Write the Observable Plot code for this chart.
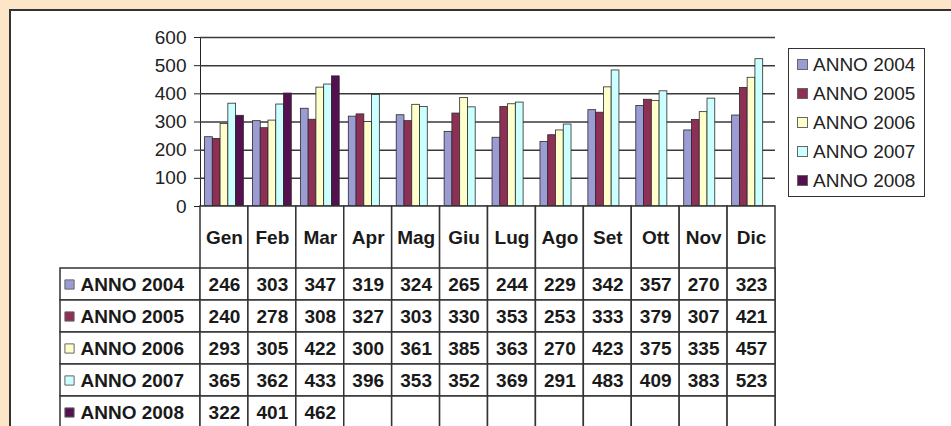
<!DOCTYPE html>
<html><head><meta charset="utf-8">
<script src="https://cdn.jsdelivr.net/npm/d3@7"></script>
<script src="https://cdn.jsdelivr.net/npm/@observablehq/plot@0.6"></script>
<style>
html,body{margin:0;padding:0;width:951px;height:426px;overflow:hidden;background:#fde6c8;font-family:"Liberation Sans",Arial,sans-serif;}
#panel{position:absolute;left:9px;top:9px;right:-4px;bottom:-4px;background:#fff;border-top:2px solid #333;border-left:2px solid #333;}
#chart,#table{position:absolute;left:0;}
#chart{top:0;} #table{top:206px;}
#legend{position:absolute;left:788px;top:48px;width:137px;height:149px;box-sizing:border-box;border:1.5px solid #333;background:#fff;padding-top:1px;font-size:19px;color:#222;}
#legend .it{display:flex;align-items:center;height:29px;}
#legend .sw{width:9px;height:9px;margin-left:8px;border:1px solid #666;}
#legend .tx{margin-left:5px;white-space:nowrap;}
</style></head><body>
<div id="panel"></div><div id="chart"></div><div id="table"></div><div id="legend"></div>
<script>
const months = ["Gen","Feb","Mar","Apr","Mag","Giu","Lug","Ago","Set","Ott","Nov","Dic"];
const series = ["2004","2005","2006","2007","2008"];
const v2004 = [246,303,347,319,324,265,244,229,342,357,270,323];
const v2005 = [240,278,308,327,303,330,353,253,333,379,307,421];
const v2006 = [293,305,422,300,361,385,363,270,423,375,335,457];
const v2007 = [365,362,433,396,353,352,369,291,483,409,383,523];
const v2008 = [322,401,462];
const yTicks = [0,100,200,300,400,500,600];
const colors = ["#9c9cd4","#8e2f55","#ffffcc","#ccffff","#55104f"];
const values = [v2004, v2005, v2006, v2007, v2008];
const seriesLabel = s => "ANNO " + s;

const data = series.flatMap((s, si) => values[si].map((v, i) => ({series: s, month: months[i], value: v})));
const cells = series.flatMap((s, si) => months.map((m, i) => ({series: s, month: m, value: values[si][i]})));

const W = 951, ML = 200, MR = 176, MT = 37, AXIS_Y = 206;
const frameW = W - ML - MR;
const bw = frameW / months.length;
const pad = bw * 0.095;
const barW = (bw - 2 * pad) / series.length;
const LINE = "#333";
const FONT = "'Liberation Sans', Arial, sans-serif";

const barMarks = series.map((s, si) => Plot.barY(data.filter(d => d.series === s), {
  x: "month", y: "value", fill: colors[si], stroke: "#2a2a2a", strokeWidth: 0.8,
  insetLeft: pad + si * barW, insetRight: bw - pad - (si + 1) * barW
}));

const chart = Plot.plot({
  width: W, height: AXIS_Y + 24,
  marginLeft: ML, marginRight: MR, marginTop: MT, marginBottom: 24,
  style: {background: "transparent", overflow: "visible", fontFamily: FONT, fontSize: "19px", color: "#222"},
  x: {type: "band", domain: months, padding: 0, round: false, axis: null},
  y: {domain: [0, 600], ticks: yTicks, tickFormat: d => String(d), tickSize: 6, tickPadding: 8, label: null, line: true},
  marks: [
    Plot.ruleY(yTicks, {stroke: "#3a3a3a", strokeWidth: 1.5}),
    ...barMarks,
    Plot.ruleY([0], {stroke: "#222", strokeWidth: 1.5})
  ]
});
document.getElementById("chart").appendChild(chart);

const HEAD = 62, ROW = 32;
const dotMarks = series.map((s, si) => Plot.dot([s], {
  y: d => d, frameAnchor: "left", dx: -131, symbol: "square", r: 5.2,
  fill: colors[si], stroke: "#666", strokeWidth: 1
}));

const table = Plot.plot({
  width: W, height: HEAD + ROW * series.length,
  marginLeft: ML, marginRight: MR, marginTop: HEAD, marginBottom: 0,
  style: {background: "transparent", overflow: "visible", fontFamily: FONT, fontSize: "19px", fontWeight: "bold", color: "#1a1a1a"},
  x: {type: "band", domain: months, padding: 0, round: false, axis: null},
  y: {type: "band", domain: series, padding: 0, round: false, axis: null},
  marks: [
    Plot.cell(months, {x: d => d, fill: "white", stroke: LINE, strokeWidth: 1.5, insetTop: -HEAD}),
    Plot.cell(series, {y: d => d, fill: "white", stroke: LINE, strokeWidth: 1.5, insetLeft: -140, insetRight: frameW}),
    Plot.cell(cells, {x: "month", y: "series", fill: "white", stroke: LINE, strokeWidth: 1.5}),
    Plot.text(months, {x: d => d, frameAnchor: "top", lineAnchor: "middle", dy: -31, text: d => d, fill: "#1a1a1a"}),
    ...dotMarks,
    Plot.text(series, {y: d => d, frameAnchor: "left", dx: -120, textAnchor: "start", text: seriesLabel, fill: "#1a1a1a"}),
    Plot.text(cells.filter(d => d.value != null), {x: "month", y: "series", text: d => String(d.value), fill: "#1a1a1a"})
  ]
});
document.getElementById("table").appendChild(table);

const legend = document.getElementById("legend");
series.forEach((s, si) => {
  const it = document.createElement("div"); it.className = "it";
  const sw = document.createElement("span"); sw.className = "sw"; sw.style.background = colors[si];
  const tx = document.createElement("span"); tx.className = "tx"; tx.textContent = seriesLabel(s);
  it.appendChild(sw); it.appendChild(tx); legend.appendChild(it);
});
</script>
</body></html>
